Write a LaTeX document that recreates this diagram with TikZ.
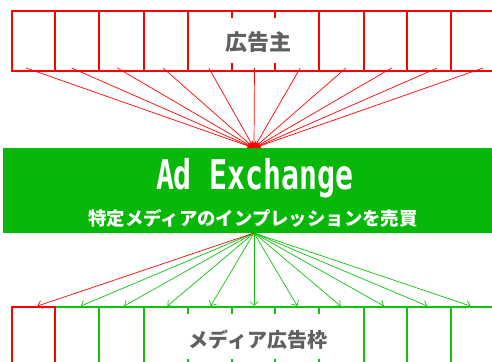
\documentclass[tikz,border=0pt]{standalone}
\usepackage{fontspec}
\usepackage{graphicx}
\newfontfamily\jp{Noto Sans CJK JP}
\newfontfamily\monolat{DejaVu Sans Mono}
\usetikzlibrary{arrows.meta}
\definecolor{adred}{RGB}{255,0,0}
\definecolor{adgreen}{RGB}{8,184,8}
\definecolor{slotgreen}{RGB}{14,194,14}
\definecolor{labelgray}{RGB}{96,96,96}
\tikzset{
  boxline/.style={line width=2pt},
  toparrow/.style={adred, line width=0.7pt, -{Stealth[length=7pt,width=5pt]}},
  botarrow/.style={line width=0.7pt, -{Straight Barb[length=4pt,width=8pt]}},
  lbl/.style={text=labelgray, font=\jp\bfseries, inner sep=0pt, anchor=base},
}
\begin{document}
\begin{tikzpicture}[x=1pt,y=-1pt]
\useasboundingbox (0,0) rectangle (492,361);
\clip (0,0) rectangle (492,361);
% top advertisers box
\draw[adred, boxline] (500,11) -| (12,71) -- (500,71);
\foreach \x in {55,99,144,188,232,275,319,364,407,451}
  \draw[adred, boxline] (\x,11) -- (\x,71);
\fill[white] (214,18) rectangle (303,63);
\node[lbl, font=\jp\bfseries\fontsize{22}{22}\selectfont] (adv) at (258.5,50.5) {広告主};
% exchange box
\node[fill=adgreen, anchor=north west, minimum width=495pt, minimum height=85pt, inner sep=0pt] (ax) at (3,148) {};
\node[text=white, inner sep=0pt, anchor=base] (title) at (255,189.5)
  {\resizebox{198pt}{\height}{\monolat\bfseries\fontsize{41}{41}\selectfont Ad Exchange}};
\node[text=white, inner sep=0pt, anchor=base, font=\jp\bfseries\fontsize{18.4}{18.4}\selectfont] (sub) at (253,225.5)
  {特定メディアのインプレッションを売買};
% top arrows
\coordinate (apex) at (254,148);
\foreach \i in {0,...,10} {
  \coordinate (a\i) at ({254.5+45.7*(\i-5)},68);
  \draw[toparrow] (a\i) -- (apex);
}
% bottom media box
\draw[slotgreen, boxline] (55,307) -- (500,307);
\foreach \x in {99,144,188,232,275,319,364,407,451}
  \draw[slotgreen, boxline] (\x,307) -- (\x,370);
\draw[adred, boxline] (12,370) |- (55,307) -- (55,370);
\fill[white] (180,314) rectangle (337,359);
\node[lbl, font=\jp\bfseries\fontsize{20}{20}\selectfont] (media) at (258,347.5) {メディア広告枠};
% bottom arrows
\coordinate (bapex) at (254,233);
\foreach \i in {1,...,10} {
  \coordinate (b\i) at ({254+43.3*(\i-5)},306);
  \draw[botarrow, slotgreen] (bapex) -- (b\i);
}
\coordinate (b0) at ({254+43.3*(-5)},306);
\draw[botarrow, adred] (bapex) -- (b0);
\end{tikzpicture}
\end{document}
